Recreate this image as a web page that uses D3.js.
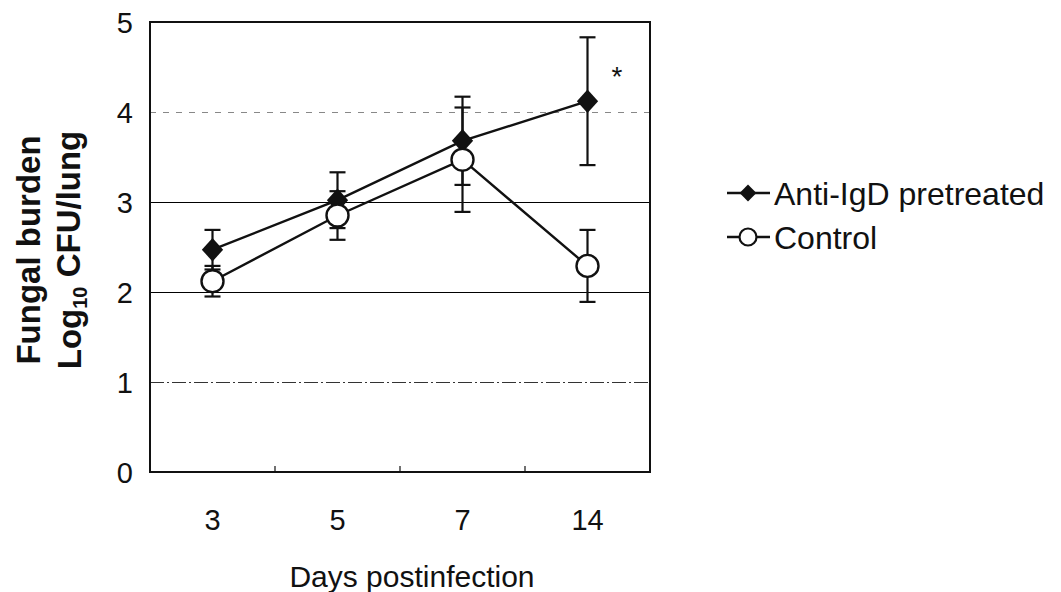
<!DOCTYPE html>
<html>
<head>
<meta charset="utf-8">
<script src="https://cdn.jsdelivr.net/npm/d3@7"></script>
<style>
  body { margin: 0; background: #fff; }
  text { font-family: "Liberation Sans", Arial, sans-serif; fill: #111; }
</style>
</head>
<body>
<div id="graph"></div>
<script>
// values
var days = ["3", "5", "7", "14"];
var antiMean = [2.47, 3.02, 3.68, 4.12];
var antiErr = [0.22, 0.31, 0.49, 0.71];
var ctrlMean = [2.12, 2.85, 3.47, 2.29];
var ctrlErr = [0.17, 0.27, 0.58, 0.40];
var yTicks = [0, 1, 2, 3, 4, 5];
var seriesNames = ["Anti-IgD pretreated", "Control"];

var width = 1061, height = 592;
var plot = { left: 150, right: 650, top: 22, bottom: 472 };

var svg = d3.select("#graph").append("svg")
    .attr("width", width)
    .attr("height", height);

var x = d3.scaleBand()
    .domain(days)
    .range([plot.left, plot.right]);

var y = d3.scaleLinear()
    .domain([0, 5])
    .range([plot.bottom, plot.top]);

var cx = function(d) { return x(d) + x.bandwidth() / 2; };

// gridlines - 2 and 3 solid, 1 and 4 broken like the scan
var gridStyle = {
    1: { c: "#333", dash: "14,3,2,3" },
    2: { c: "#000", dash: null },
    3: { c: "#000", dash: null },
    4: { c: "#888", dash: "6,7" }
};
svg.append("g").selectAll("line")
    .data([1, 2, 3, 4]).enter()
    .append("line")
    .attr("x1", plot.left).attr("x2", plot.right)
    .attr("y1", d => y(d) + 0.5).attr("y2", d => y(d) + 0.5)
    .attr("stroke", d => gridStyle[d].c)
    .attr("stroke-width", 1)
    .attr("stroke-dasharray", d => gridStyle[d].dash);

// frame
svg.append("rect")
    .attr("x", plot.left).attr("y", plot.top)
    .attr("width", plot.right - plot.left)
    .attr("height", plot.bottom - plot.top)
    .attr("fill", "none")
    .attr("stroke", "#111")
    .attr("stroke-width", 2);

// little category dividers on the bottom edge
svg.append("g").selectAll("line")
    .data(days.slice(1)).enter()
    .append("line")
    .attr("x1", d => x(d)).attr("x2", d => x(d))
    .attr("y1", plot.bottom).attr("y2", plot.bottom - 6)
    .attr("stroke", "#111").attr("stroke-width", 1.2);

// axes (labels only)
var yAxis = svg.append("g")
    .attr("transform", "translate(" + (plot.left - 14) + ",0)")
    .call(d3.axisLeft(y).tickValues(yTicks).tickSize(0).tickFormat(d3.format("d")));
yAxis.select(".domain").remove();
yAxis.selectAll("text").style("font-size", "29px").attr("dy", "0.36em");

var xAxis = svg.append("g")
    .attr("transform", "translate(0," + (plot.bottom + 34) + ")")
    .call(d3.axisBottom(x).tickSize(0));
xAxis.select(".domain").remove();
xAxis.selectAll("text").style("font-size", "29px");

svg.append("text")
    .attr("x", 412).attr("y", 587)
    .attr("text-anchor", "middle")
    .style("font-size", "30px")
    .text("Days postinfection");

// y title, two bold lines
var yt = svg.append("text")
    .attr("transform", "translate(40,250) rotate(-90)")
    .attr("text-anchor", "middle")
    .style("font-size", "33px")
    .style("font-weight", "bold");
yt.append("tspan").attr("x", 0).attr("dy", 0).text("Fungal burden");
var l2 = yt.append("tspan").attr("x", 0).attr("dy", "1.24em");
l2.append("tspan").text("Log");
l2.append("tspan").style("font-size", "20px").attr("dy", "0.3em").text("10");
l2.append("tspan").attr("dy", "-0.2em").text(" CFU/lung");

// data rows
var anti = days.map((d, i) => ({ day: d, m: antiMean[i], e: antiErr[i] }));
var ctrl = days.map((d, i) => ({ day: d, m: ctrlMean[i], e: ctrlErr[i] }));

function errorBars(data) {
    var g = svg.append("g").attr("stroke", "#111").attr("stroke-width", 2.2);
    g.selectAll(".v").data(data).enter().append("line")
        .attr("x1", d => cx(d.day)).attr("x2", d => cx(d.day))
        .attr("y1", d => y(d.m - d.e)).attr("y2", d => y(d.m + d.e));
    g.selectAll(".t").data(data).enter().append("line")
        .attr("x1", d => cx(d.day) - 8).attr("x2", d => cx(d.day) + 8)
        .attr("y1", d => y(d.m + d.e)).attr("y2", d => y(d.m + d.e));
    g.selectAll(".b").data(data).enter().append("line")
        .attr("x1", d => cx(d.day) - 8).attr("x2", d => cx(d.day) + 8)
        .attr("y1", d => y(d.m - d.e)).attr("y2", d => y(d.m - d.e));
}

var line = d3.line().x(d => cx(d.day)).y(d => y(d.m));

errorBars(ctrl);
errorBars(anti);

svg.append("path").datum(anti)
    .attr("d", line).attr("fill", "none")
    .attr("stroke", "#111").attr("stroke-width", 2.4);
svg.append("g").selectAll("path")
    .data(anti).enter().append("path")
    .attr("d", d3.symbol(d3.symbolDiamond2, 320))
    .attr("transform", d => "translate(" + cx(d.day) + "," + y(d.m) + ") scale(0.95,1.05)")
    .attr("fill", "#111");

svg.append("path").datum(ctrl)
    .attr("d", line).attr("fill", "none")
    .attr("stroke", "#111").attr("stroke-width", 2.4);
svg.append("g").selectAll("circle")
    .data(ctrl).enter().append("circle")
    .attr("cx", d => cx(d.day)).attr("cy", d => y(d.m))
    .attr("r", 11)
    .attr("fill", "#fff").attr("stroke", "#111").attr("stroke-width", 2.4);

// significance mark
svg.append("text")
    .attr("x", 617).attr("y", 86)
    .attr("text-anchor", "middle")
    .style("font-size", "28px")
    .text("*");

// legend
var leg = svg.append("g");
seriesNames.forEach(function(name, i) {
    var ly = 193 + i * 44;
    leg.append("line")
        .attr("x1", 727).attr("x2", 770).attr("y1", ly).attr("y2", ly)
        .attr("stroke", "#111").attr("stroke-width", 2.4);
    if (i === 0) {
        leg.append("path")
            .attr("d", d3.symbol(d3.symbolDiamond2, 180))
            .attr("transform", "translate(748," + ly + ")")
            .attr("fill", "#111");
    } else {
        leg.append("circle")
            .attr("cx", 748).attr("cy", ly).attr("r", 8.5)
            .attr("fill", "#fff").attr("stroke", "#111").attr("stroke-width", 2.2);
    }
    leg.append("text")
        .attr("x", 774).attr("y", ly)
        .attr("dy", "0.36em")
        .style("font-size", "32px")
        .text(name);
});
</script>
</body>
</html>
